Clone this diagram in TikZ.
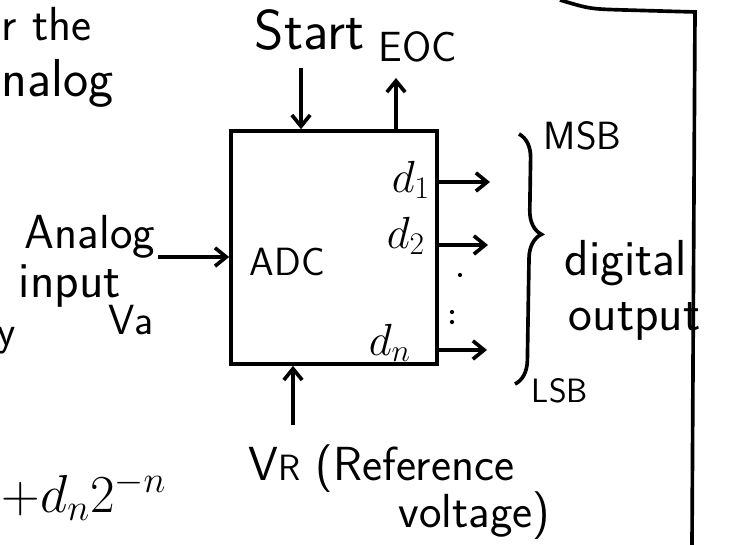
\RequirePackage{fix-cm}
\documentclass[tikz,border=0pt]{standalone}
\usetikzlibrary{positioning, arrows.meta, calc, decorations.pathreplacing}

\newcommand{\handsize}[1]{\fontsize{#1}{#1}\selectfont}

\begin{document}
\begin{tikzpicture}[
  x=0.025cm, y=-0.025cm,
  line width=2.6pt,
  arr/.style={-{Straight Barb[length=8pt, width=13pt]}},
  hand/.style={anchor=base west, inner sep=0pt},
  box/.style={rectangle, draw, line width=2.6pt, minimum width=5.15cm, minimum height=5.825cm}
]
  \useasboundingbox (0,0) rectangle (732,545);

  % Converter block
  \node[box] (adc) at (334,247.5) {};
  \node[hand, font=\sffamily\handsize{28}] (adclabel) at (248,275) {ADC};

  % Control lines
  \node[hand, font=\sffamily\handsize{40}] (start) at (253,50) {Start};
  \node[hand, font=\sffamily\handsize{30}] (eoc) at (377,62) {EOC};
  \coordinate (startin) at (301,68);
  \coordinate (eocout) at (396,78);
  \draw[arr] (startin) -- (startin |- adc.north);
  \draw[arr] (eocout |- adc.north) -- (eocout);

  % Analog input
  \node[hand, font=\sffamily\handsize{34}] (analog) at (23,248) {Analog};
  \node[hand, font=\sffamily\handsize{36}] (input) at (17,298) {input};
  \node[hand, font=\sffamily\handsize{30}] (va) at (107,334) {Va};
  \coordinate (vain) at (158,257);
  \draw[arr] (vain) -- (vain -| adc.west);

  % Digital outputs
  \node[hand, font=\handsize{32}] (d1) at (390,192) {$d_1$};
  \node[hand, font=\handsize{32}] (d2) at (385,248) {$d_2$};
  \node[hand, font=\handsize{32}] (dn) at (367,355) {$d_n$};
  \coordinate (out1) at (490,182);
  \coordinate (out2) at (488,245);
  \coordinate (outn) at (487,350);
  \draw[arr] (out1 -| adc.east) -- (out1);
  \draw[arr] (out2 -| adc.east) -- (out2);
  \draw[arr] (outn -| adc.east) -- (outn);
  \fill (460,275) circle (1.5pt) (452,312) circle (1.5pt) (452,322) circle (1.5pt);

  % Brace and bit order
  \coordinate (msbend) at (519,134);
  \coordinate (lsbend) at (515,384);
  \draw[decorate, decoration={brace, amplitude=0.6cm, aspect=0.4}] (msbend) -- (lsbend);
  \node[hand, font=\sffamily\handsize{28}] (msb) at (542,150) {MSB};
  \node[hand, font=\sffamily\handsize{24}] (lsb) at (530,402) {LSB};
  \node[hand, font=\sffamily\handsize{36}] (digital) at (563,275) {digital};
  \node[hand, font=\sffamily\handsize{36}] (output) at (567,330) {output};

  % Reference voltage
  \coordinate (vref) at (293,425);
  \draw[arr] (vref) -- (vref |- adc.south);
  \node[hand, font=\sffamily\handsize{34}] (vrlabel) at (247,480) {V{\handsize{26}R} (Reference};
  \node[hand, font=\sffamily\handsize{34}] (voltage) at (397,527) {voltage)};

  % Page fragments
  \node[hand, font=\sffamily\handsize{34}] (the) at (0,41) {r the};
  \node[hand, font=\sffamily\handsize{38}] (nalog) at (0,97) {nalog};
  \node[hand, font=\sffamily\handsize{30}] (ylet) at (-4,345) {y};
  \node[hand, font=\handsize{38}] (sum) at (0,512) {$+d_n2^{-n}$};
  \draw (560,0) .. controls (590,9) .. (625,10) -- (695,12) -- (692,545);
\end{tikzpicture}
\end{document}
